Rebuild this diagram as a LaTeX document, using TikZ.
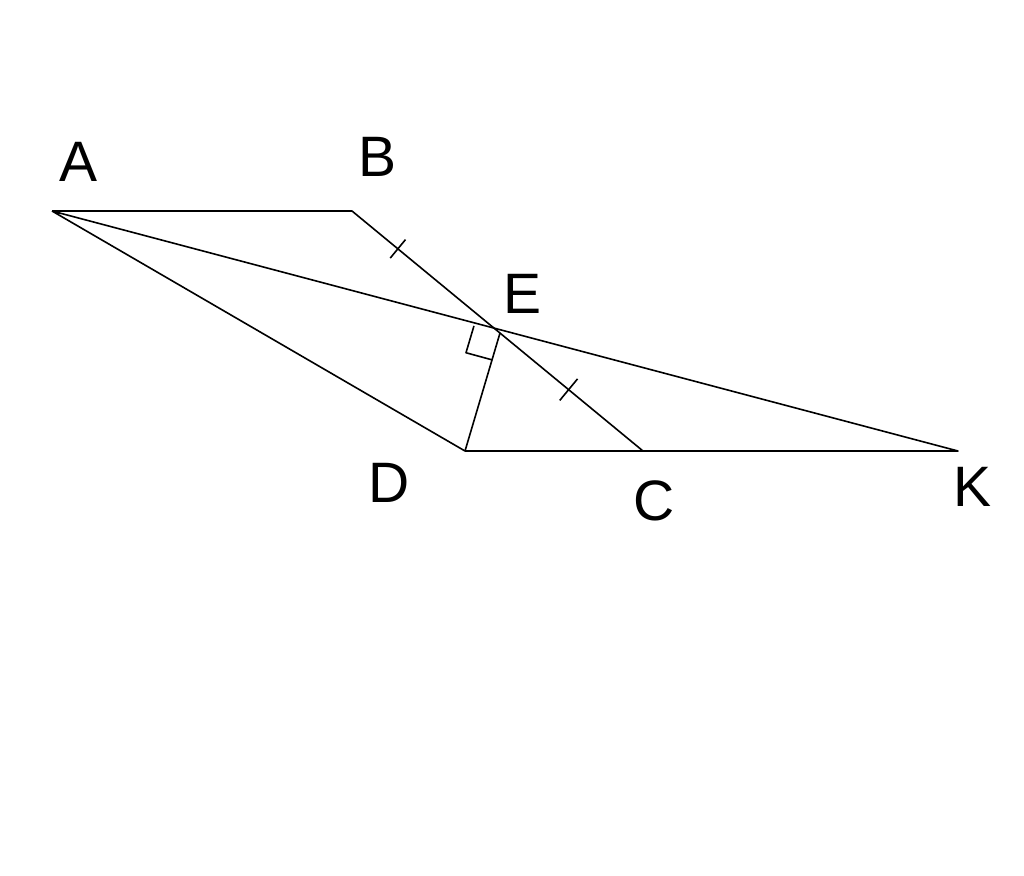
\documentclass[tikz,border=0pt]{standalone}
\usepackage{fontspec}
\setmainfont{Liberation Sans}
\usetikzlibrary{calc}
\begin{document}
\begin{tikzpicture}[x=1pt,y=-1pt,
  seg/.style={line width=1.6pt, line join=round},
  lbl/.style={font=\fontsize{57}{60}\selectfont, inner sep=0pt}]
\useasboundingbox (0,0) rectangle (1024,875);
\coordinate (A) at (52,211);
\coordinate (B) at (352,211);
\coordinate (E) at (500,333);
\coordinate (D) at (465,451);
\coordinate (C) at (643,451);
\coordinate (K) at (958,451);
\draw[seg] (A) -- (B) -- (C);
\draw[seg] (A) -- (K) -- (D) -- (A);
\draw[seg] (D) -- (E);
% right angle mark
\coordinate (R1) at ($(E)!27pt!(A)$);
\coordinate (R3) at ($(E)!28pt!(D)$);
\draw[seg] (R1) -- ($(R1)+(R3)-(E)$) -- (R3);
% ticks
\coordinate (T1) at ($(B)!0.31!(E)$);
\coordinate (T2) at ($(E)!0.48!(C)$);
\draw[seg] ($(T1)!12pt!90:(E)$) -- ($(T1)!12pt!-90:(E)$);
\draw[seg] ($(T2)!14pt!90:(C)$) -- ($(T2)!14pt!-90:(C)$);
% labels
\node[lbl] (lA) at (79,162) {A};
\node[lbl] (lB) at (378,157) {B};
\node[lbl] (lE) at (523,294) {E};
\node[lbl] (lD) at (389,483) {D};
\node[lbl] (lC) at (654,501) {C};
\node[lbl] (lK) at (972,487) {K};
\end{tikzpicture}
\end{document}
